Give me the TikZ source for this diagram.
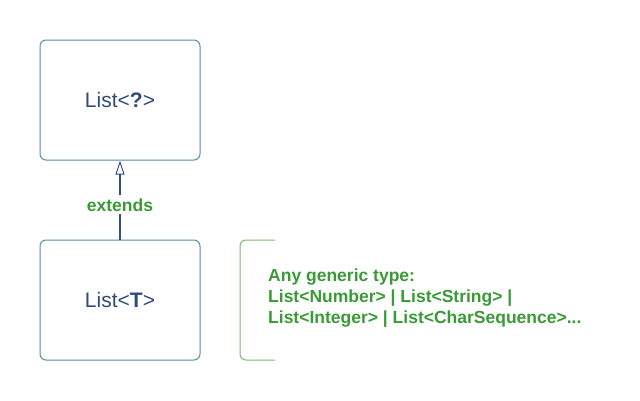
\documentclass[tikz,border=0pt]{standalone}
\usepackage{fontspec}
\setmainfont{Liberation Sans}
\usetikzlibrary{arrows.meta}
\definecolor{boxline}{HTML}{5A8CA6}
\definecolor{boxtext}{HTML}{2E4A78}
\definecolor{arrowcol}{HTML}{2E4F80}
\definecolor{greentext}{HTML}{3A9A36}
\definecolor{bracketcol}{HTML}{7DB86B}
\begin{document}
\begin{tikzpicture}[x=1pt,y=-1pt,
  classbox/.style={draw=boxline,line width=1pt,rounded corners=6pt,minimum width=160pt,minimum height=120pt,inner sep=0pt,text=boxtext,font=\fontsize{21}{25}\selectfont},
  lbl/.style={text=greentext,font=\bfseries\fontsize{17.5}{21}\selectfont,inner sep=2pt}]
\useasboundingbox (0,0) rectangle (640,400);
\node[classbox] (top) at (120,100) {List<\textbf{?}>};
\node[classbox] (bot) at (120,300) {List<\textbf{T}>};
\draw[arrowcol,line width=1.5pt,-{Triangle[open,length=14pt,width=9pt,line width=1pt]}] (bot.north) -- node[pos=0.44,fill=white,lbl,inner ysep=3pt] (ext) {extends} (top.south);
\coordinate (b1) at (275,240);
\coordinate (b2) at (240,240);
\coordinate (b3) at (240,360);
\coordinate (b4) at (275,360);
\draw[bracketcol,line width=1pt,rounded corners=6pt] (b1) -- (b2) -- (b3) -- (b4);
\node[lbl,anchor=west,align=left,inner sep=0pt] (gen) at (268,298) {Any generic type:\\List<Number> | List<String> |\\List<Integer> | List<CharSequence>...};
\end{tikzpicture}
\end{document}
